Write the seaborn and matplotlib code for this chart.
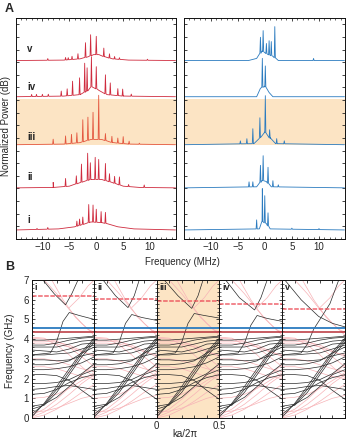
import numpy as np
import pandas as pd
import matplotlib
matplotlib.use("Agg")
import matplotlib.pyplot as plt
from matplotlib.ticker import MultipleLocator
import seaborn as sns

# ---------------- panel A data: spectra (MHz, relative power) ----------------
labels = ["i", "ii", "iii", "iv", "v"]
baselines = [0.43, 2.43, 4.48, 6.76, 8.48]

# red (left) spectra: broad background + narrow peaks
red_bg_f = [
    [-14.8, -7, -4, -2, -1, 1, 2, 4, 7, 14.7],
    [-14.8, -8, -5, -3, -1, 1, 3, 5, 8, 14.7],
    [-14.8, -6, -3, -1, 1, 3, 6, 14.7],
    [-14.8, -6, -3, -1.5, -0.8, 0.5, 2, 5, 14.7],
    [-14.8, -6, -3, -1.5, -0.5, 0.5, 1.5, 3, 6, 14.7],
]
red_bg_h = [
    [0, 0.05, 0.15, 0.3, 0.38, 0.35, 0.3, 0.15, 0.05, 0],
    [0, 0.02, 0.08, 0.25, 0.4, 0.4, 0.25, 0.08, 0.02, 0],
    [0, 0.03, 0.1, 0.25, 0.25, 0.1, 0.03, 0],
    [0, 0.03, 0.1, 0.3, 0.5, 0.3, 0.1, 0.03, 0],
    [0, 0.02, 0.08, 0.18, 0.28, 0.28, 0.18, 0.08, 0.02, 0],
]
red_pk_f = [
    [-11, -9, -3.6, -3.1, -2.5, -1.4, -0.6, 0, 0.9, 1.7],
    [-8.0, -5.7, -3.7, -2.75, -1.6, -1.1, -0.2, 0.45, 1.7, 2.45, 3.4, 4.3, 6.0, 8.9],
    [-8.0, -5.7, -4.6, -3.6, -2.5, -1.55, -0.6, 0.45, 1.7, 2.9, 4.0, 5.0, 6.1, 8.0],
    [-12.0, -11.1, -10.0, -8.9, -6.5, -5.4, -4.4, -3.1, -2.15, -1.7, -0.9, 0.0, 1.7, 2.6, 4.0, 4.9, 6.5],
    [-9.0, -5.7, -5.2, -4.5, -3.4, -2.0, -1.05, 0.0, 1.4, 2.45, 3.4, 4.3, 9.5],
]
red_pk_h = [
    [0.05, 0.08, 0.24, 0.3, 0.35, 0.86, 0.81, 0.62, 0.52, 0.52],
    [0.24, 0.38, 0.38, 0.86, 1.29, 0.8, 1.05, 0.95, 0.81, 0.38, 0.33, 0.38, 0.1, 0.12],
    [0.24, 0.38, 0.43, 0.48, 1.05, 1.1, 1.29, 2.1, 0.33, 0.29, 0.24, 0.33, 0.14, 0.05],
    [0.1, 0.1, 0.1, 0.1, 0.24, 0.33, 0.67, 0.8, 1.38, 1.1, 1.43, 1.05, 0.9, 0.57, 0.33, 0.33, 0.1],
    [0.08, 0.12, 0.1, 0.15, 0.25, 0.7, 1.0, 0.87, 0.4, 0.2, 0.12, 0.08, 0.05],
]

# blue (right) spectra
blue_bg_f = [
    [-14.8, -1, -0.5, 0.3, 1, 14.7],
    [-14.8, -1.5, -0.5, 0.3, 1.2, 14.7],
    [-14.8, -2, -1, 0, 1, 2, 14.7],
    [-14.8, -1.5, -0.8, 0, 0.8, 1.5, 14.7],
    [-14.8, -3, -1.5, -0.5, 0.5, 1.5, 2.5, 14.7],
]
blue_bg_h = [
    [0, 0.05, 0.4, 0.3, 0.05, 0],
    [0, 0.05, 0.35, 0.3, 0.05, 0],
    [0, 0.05, 0.3, 0.6, 0.3, 0.05, 0],
    [0, 0, 0.4, 0.5, 0.2, 0, 0],
    [0, 0, 0.1, 0.45, 0.3, 0.2, 0, 0],
]
blue_pk_f = [
    [-1.5, -0.45, 0, 0.6, 5, 10],
    [-2.9, -2.2, -0.8, -0.3, 0.6, 1.5, 2.5],
    [-4.5, -3.3, -2.2, -0.9, 0.1, 0.9, 2.2, 3.6],
    [-0.45, 0.1],
    [-0.8, -0.3, 0.3, 0.8, 1.2, 1.85, 9.0],
]
blue_pk_h = [
    [0.43, 1.57, 1.29, 0.62, 0.05, 0.05],
    [0.24, 0.24, 0.81, 1.19, 0.76, 0.29, 0.1],
    [0.14, 0.24, 0.71, 0.95, 1.76, 0.38, 0.24, 0.14],
    [1.38, 1.0],
    [0.76, 1.0, 0.48, 0.67, 0.67, 1.48, 0.1],
]

# ---------------- panel B data: band diagrams (ka/2pi, GHz) ----------------
k_grid = [0, 0.1, 0.2, 0.3, 0.4, 0.5]
black_bands = [
    [0.05, 0.75, 1.6, 2.5, 3.35, 4.05],
    [0.2, 0.7, 1.45, 2.35, 3.25, 3.95],
    [0.45, 0.65, 1.3, 2.2, 3.1, 3.85],
    [0.6, 0.7, 1.05, 1.6, 2.2, 2.45],
    [1.2, 1.25, 1.45, 1.8, 2.05, 2.2],
    [1.45, 1.5, 1.6, 1.65, 1.55, 1.45],
    [1.75, 1.75, 1.8, 1.95, 2.25, 2.75],
    [2.2, 2.2, 2.15, 1.9, 1.4, 0.95],
    [2.45, 2.45, 2.5, 2.6, 2.8, 3.1],
    [2.7, 2.7, 2.75, 2.9, 3.3, 3.6],
    [2.95, 2.95, 2.9, 2.95, 3.15, 3.3],
    [3.2, 3.2, 3.25, 3.3, 3.5, 3.7],
    [3.45, 3.4, 3.35, 3.5, 3.75, 3.8],
    [3.6, 3.6, 3.6, 3.75, 3.9, 3.95],
    [3.7, 3.7, 3.8, 3.95, 4.05, 4.1],
    [3.95, 3.95, 4.0, 4.05, 4.1, 4.15],
]
pink_bands = [
    [0.0, 0.15, 0.45, 0.85, 1.3, 1.7],
    [0.05, 0.3, 0.7, 1.2, 1.75, 2.2],
    [0.15, 0.45, 0.95, 1.55, 2.2, 2.7],
    [0.3, 0.35, 0.5, 0.75, 1.0, 1.15],
    [1.0, 1.05, 1.2, 1.5, 1.9, 2.3],
    [2.6, 2.6, 2.5, 2.3, 2.1, 2.0],
    [3.0, 3.0, 2.9, 2.7, 2.5, 2.35],
    [3.8, 3.8, 3.75, 3.6, 3.35, 3.2],
    [3.9, 3.9, 3.85, 3.7, 3.4, 3.1],
    [4.05, 4.0, 3.9, 3.6, 3.1, 2.6],
    [4.1, 4.05, 3.7, 3.2, 2.6, 2.05],
]
pink_upper_k = [[0.1, 0.2, 0.3, 0.4, 0.5], [0.16, 0.25, 0.35, 0.45, 0.5], [0.3, 0.38, 0.45, 0.5]]
pink_upper_f = [[7.0, 6.3, 5.5, 4.8, 4.2], [7.0, 6.0, 5.1, 4.5, 4.35], [5.6, 6.1, 6.7, 7.0]]

# per-panel upper bands
upper_k = [
    [0.09, 0.18, 0.27, 0.32, 0.37],
    [0.07, 0.17, 0.27, 0.32, 0.36],
    [0.06, 0.17, 0.28, 0.33, 0.37],
    [0.05, 0.16, 0.28, 0.33, 0.38],
    [0.02, 0.15, 0.29, 0.4, 0.5],
]
upper_f = [
    [7.0, 6.3, 5.74, 6.3, 7.0],
    [7.0, 6.2, 5.6, 6.2, 7.0],
    [7.0, 6.2, 5.56, 6.2, 7.0],
    [7.0, 6.1, 5.48, 6.1, 7.0],
    [7.0, 6.0, 5.15, 4.8, 4.62],
]
second_k = [
    [0.0, 0.15, 0.2, 0.25, 0.3, 0.38, 0.5],
    [0.0, 0.15, 0.2, 0.25, 0.3, 0.38, 0.5],
    [0.0, 0.15, 0.2, 0.25, 0.3, 0.38, 0.5],
    [0.0, 0.15, 0.2, 0.25, 0.3, 0.38, 0.5],
    [0.0, 0.15, 0.2, 0.25, 0.3, 0.38, 0.45],
]
second_f = [
    [3.2, 3.3, 3.9, 4.9, 5.35, 5.2, 5.0],
    [3.2, 3.3, 3.85, 4.8, 5.25, 5.1, 4.95],
    [3.2, 3.3, 3.85, 4.8, 5.3, 5.2, 5.07],
    [3.2, 3.3, 3.8, 4.7, 5.2, 5.05, 4.9],
    [3.2, 3.3, 3.75, 4.5, 5.0, 5.8, 7.0],
]
red_flat = [6.2, 6.04, 5.94, 5.77, 5.55]
blue_line = 4.55
red_line = 4.35

RED = "#cf2b3e"
RED3 = "#e4573f"
BLUE = "#2b7bbf"
SHADE = "#fce4c4"
PINK = "#f7b3b7"


def trace(bg_f, bg_h, pk_f, pk_h, base, w=0.1):
    xs = list(bg_f)
    ys = list(bg_h)
    for f, h in zip(pk_f, pk_h):
        b = np.interp(f, bg_f, bg_h)
        xs += [f - w, f, f + w]
        ys += [b, b + h, b]
    order = np.argsort(xs, kind="stable")
    return pd.DataFrame({"f": np.array(xs)[order], "p": np.array(ys)[order] + base})


sns.set_style("ticks")
plt.rcParams["font.family"] = ["Liberation Sans", "DejaVu Sans"]
plt.rcParams["font.size"] = 7
plt.rcParams["axes.linewidth"] = 0.7
plt.rcParams["axes.edgecolor"] = "#111111"
for a in ("x", "y"):
    plt.rcParams[a + "tick.direction"] = "in"
    plt.rcParams[a + "tick.major.size"] = 2
    plt.rcParams[a + "tick.minor.size"] = 1.2
    plt.rcParams[a + "tick.major.width"] = 0.6
    plt.rcParams[a + "tick.minor.width"] = 0.5
    plt.rcParams[a + "tick.labelsize"] = 7
    plt.rcParams[a + "tick.major.pad"] = 2

fig = plt.figure(figsize=(3.5, 4.41), dpi=100)


def px_axes(x0, y0, x1, y1):
    return fig.add_axes([x0 / 350, 1 - y1 / 441, (x1 - x0) / 350, (y1 - y0) / 441])


# ---------------- panel A ----------------
axL = px_axes(16, 18, 176, 239)
axR = px_axes(184, 18, 345, 239)
for ax, bgf, bgh, pkf, pkh, side in [
    (axL, red_bg_f, red_bg_h, red_pk_f, red_pk_h, "red"),
    (axR, blue_bg_f, blue_bg_h, blue_pk_f, blue_pk_h, "blue"),
]:
    ax.axhspan(baselines[2], 6.67, color=SHADE, lw=0, zorder=0)
    for i in range(5):
        df = trace(bgf[i], bgh[i], pkf[i], pkh[i], baselines[i])
        if side == "red":
            col = RED3 if i == 2 else RED
        else:
            col = BLUE
        sns.lineplot(data=df, x="f", y="p", ax=ax, color=col, lw=0.6,
                     sort=False, estimator=None)
    ax.set_xlim(-14.9, 14.8)
    ax.set_ylim(0, 10.5)
    ax.xaxis.set_major_locator(MultipleLocator(5))
    ax.xaxis.set_minor_locator(MultipleLocator(1))
    ax.yaxis.set_major_locator(MultipleLocator(0.6))
    ax.set_yticklabels([])
    ax.tick_params(which="both", top=True, right=True)
    ax.set_xlabel("")
    ax.set_ylabel("")

label_y = [220, 177.5, 136.5, 86.7, 49.5]
for lab, yy in zip(labels, label_y):
    fig.text(27 / 350, 1 - yy / 441, lab, fontsize=7, fontweight="bold", ha="left", va="center")

fig.text(9.5 / 350, 1 - 9 / 441, "A", fontsize=9, fontweight="bold", ha="center", va="center")
fig.text(182 / 350, 1 - 262 / 441, "Frequency (MHz)", ha="center", va="center")
fig.text(6 / 350, 1 - 126 / 441, "Normalized Power (dB)", rotation=90, ha="center", va="center")

# ---------------- panel B ----------------
edges = [31.7, 94.3, 156.7, 219.3, 282.3, 345]
for p in range(5):
    ax = px_axes(edges[p], 280, edges[p + 1], 418)
    if p == 2:
        ax.axvspan(0, 0.5, color=SHADE, lw=0, zorder=0)
    rows = []
    for j, band in enumerate(pink_bands):
        rows += [("p%d" % j, k, f) for k, f in zip(k_grid, band)]
    for j in range(len(pink_upper_k)):
        rows += [("u%d" % j, k, f) for k, f in zip(pink_upper_k[j], pink_upper_f[j])]
    pdf = pd.DataFrame(rows, columns=["band", "k", "f"])
    sns.lineplot(data=pdf, x="k", y="f", units="band", estimator=None, sort=False,
                 ax=ax, color=PINK, lw=0.5)
    rows = []
    for j, band in enumerate(black_bands):
        rows += [("b%d" % j, k, f) for k, f in zip(k_grid, band)]
    rows += [("up", k, f) for k, f in zip(upper_k[p], upper_f[p])]
    rows += [("sec", k, f) for k, f in zip(second_k[p], second_f[p])]
    bdf = pd.DataFrame(rows, columns=["band", "k", "f"])
    sns.lineplot(data=bdf, x="k", y="f", units="band", estimator=None, sort=False,
                 ax=ax, color="#2a2a2a", lw=0.5)
    ax.axhline(red_flat[p], color="#ec4a55", lw=1.1, alpha=0.85, ls=(0, (3, 1)))
    ax.axhline(blue_line, color=BLUE, lw=1.3)
    ax.axhline(red_line, color="#b83038", lw=1.1)
    ax.set_xlim(0, 0.5)
    ax.set_ylim(0, 7)
    ax.xaxis.set_major_locator(MultipleLocator(0.1))
    ax.yaxis.set_major_locator(MultipleLocator(1))
    ax.yaxis.set_minor_locator(MultipleLocator(0.2))
    ax.tick_params(which="both", top=True, right=True)
    ax.set_xlabel("")
    ax.set_ylabel("")
    if p == 2:
        ax.set_xticks([0, 0.1, 0.2, 0.3, 0.4, 0.5])
        ax.set_xticklabels(["0", "", "", "", "", "0.5"])
    else:
        ax.set_xticklabels([])
    if p != 0:
        ax.set_yticklabels([])
    else:
        ax.set_yticks(range(8))
        ax.set_yticklabels([str(v) for v in range(8)])
    ax.text(0.025, 6.85, labels[p], fontsize=6.5, fontweight="bold", ha="left", va="top")

fig.text(10 / 350, 1 - 267 / 441, "B", fontsize=9, fontweight="bold", ha="center", va="center")
fig.text(10 / 350, 1 - 351 / 441, "Frequency (GHz)", rotation=90, ha="center", va="center")
fig.text(185 / 350, 1 - 434 / 441, "ka/2π", ha="center", va="center")

fig.savefig("out.png", dpi=100)
